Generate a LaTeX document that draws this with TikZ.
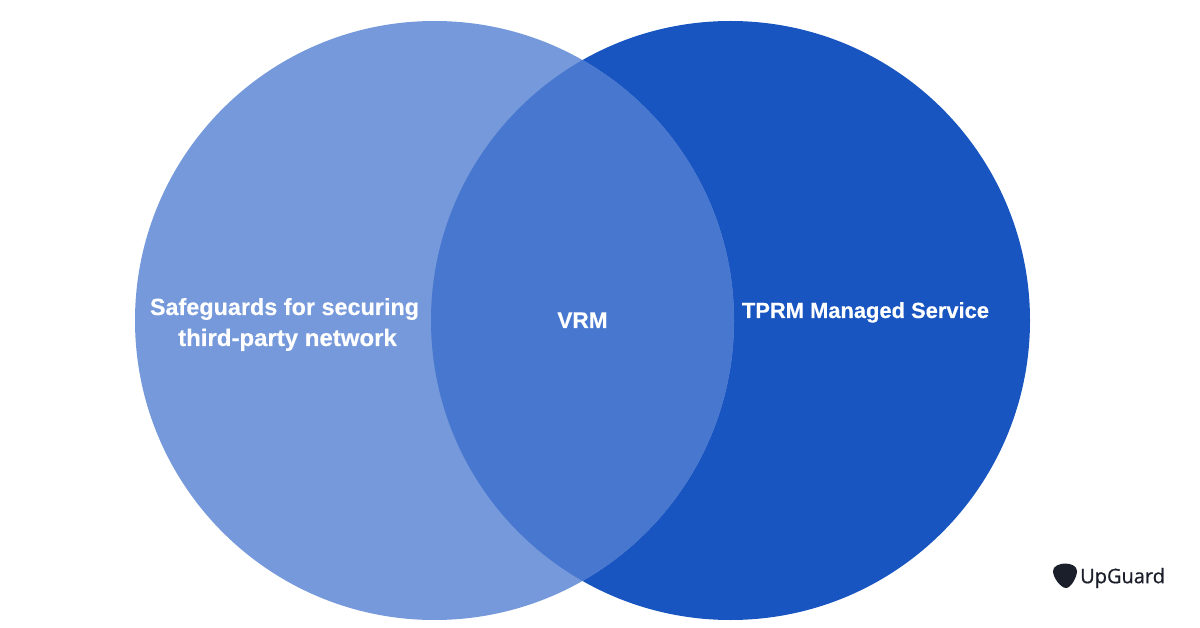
\documentclass[tikz,border=0pt]{standalone}
\usepackage{fontspec}
\setmainfont[BoldFeatures={FakeBold=0.3}]{Liberation Sans}
\newfontfamily\brandfont[FakeBold=0.6]{Open Sans}
\definecolor{leftc}{HTML}{7599DA}
\definecolor{rightc}{HTML}{1855C0}
\definecolor{midc}{HTML}{4877CF}
\definecolor{logoc}{HTML}{1B1F2B}
\tikzset{
  lbl/.style={text=white,font=\fontsize{#1}{28.5}\selectfont\bfseries,inner sep=0pt,anchor=base},
  brand/.style={text=logoc,font=\fontsize{20}{24}\selectfont\brandfont,inner sep=0pt,anchor=west}
}
\begin{document}
\begin{tikzpicture}[x=1pt,y=-1pt]
\useasboundingbox (0,0) rectangle (1200,628);
\fill[white] (0,0) rectangle (1200,628);
\fill[rightc] (730.5,320.5) circle [radius=299.5];
\fill[leftc] (434.5,320.5) circle [radius=299.5];
\begin{scope}
\clip (434.5,320.5) circle [radius=299.5];
\fill[midc] (730.5,320.5) circle [radius=299.5];
\end{scope}
\node[lbl=23.4] (a) at (284.5,315) {Safeguards for securing};
\node[lbl=24] (a2) at (287.5,346) {third-party network};
\node[lbl=22.6] (b) at (582.5,328) {VRM};
\node[lbl=21.9] (c) at (865.5,318) {TPRM Managed Service};
\fill[logoc] (1053,571) .. controls (1053,566) and (1060,563.5) .. (1065,563.5) .. controls (1071,563.5) and (1077,566) .. (1077,571) .. controls (1077,577) and (1071,588) .. (1066,588) .. controls (1061,588) and (1053,578) .. (1053,571) -- cycle;
\node[brand] (d) at (1080,578) {UpGuard};
\end{tikzpicture}
\end{document}
